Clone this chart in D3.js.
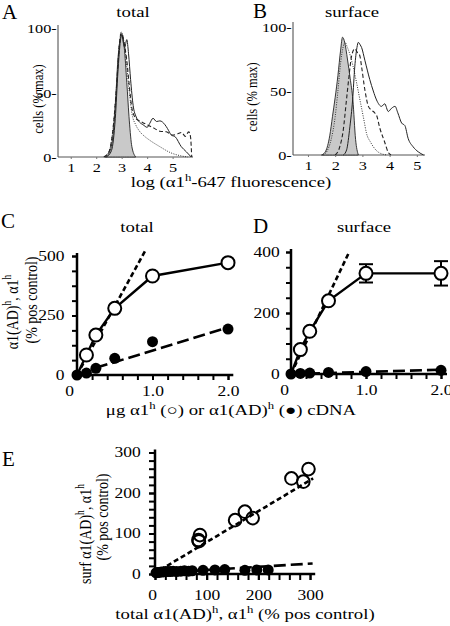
<!DOCTYPE html>
<html><head><meta charset="utf-8">
<script src="https://cdn.jsdelivr.net/npm/d3@7"></script>
<style>
body{margin:0;background:#fff}
svg{display:block}
text{font-family:"Liberation Serif","Times New Roman",serif;fill:#000}
</style>
</head><body>
<svg id="fig" width="450" height="626"></svg>
<script>
// ---------- Panel A: total (flow histograms; x = log fluorescence, y = % max) ----------
const aGrayX  = [2.35,2.5,2.65,2.75,2.85,2.95,3.02,3.1,3.2,3.3,3.4,3.55];
const aGrayY  = [0,3,15,40,75,92,95,85,58,28,8,0];
const aDotX   = [2.3,2.5,2.65,2.8,2.9,2.98,3.08,3.2,3.3,3.4,3.55,3.7,3.9,4.1,4.5,4.9,5.3,5.6];
const aDotY   = [0,4,20,55,85,97,90,70,50,34,25,20,16,13,8,3.5,1,0];
const aDashX  = [2.3,2.5,2.65,2.8,2.9,2.98,3.1,3.2,3.3,3.4,3.55,3.7,3.9,4.1,4.3,4.5,4.75,5.0,5.2,5.35,5.5,5.63,5.7,5.75];
const aDashY  = [0,4,20,55,85,96,88,75,55,38,30,28,26,24,22,20,19.6,17,18,19,16,19.5,16,0];
const aSolidX = [2.4,2.6,2.75,2.85,2.95,3.0,3.07,3.12,3.2,3.27,3.35,3.45,3.57,3.7,3.84,4.0,4.1,4.23,4.37,4.5,4.7,4.8,4.95,5.1,5.34,5.54,5.73];
const aSolidY = [0,5,30,65,90,95,88,85,91,80,60,40,31,27,25,23,26,30,27.5,28,25,22,17,15.7,8,4,0];
// ---------- Panel B: surface ----------
const bGrayX  = [1.5,1.65,1.8,1.9,2.0,2.1,2.2,2.27,2.35,2.45,2.55,2.65,2.75,2.85];
const bGrayY  = [0,3,15,30,45,62,82,92,88,75,60,43,12,0];
const bDotX   = [1.55,1.7,1.85,2.0,2.1,2.2,2.3,2.36,2.45,2.55,2.66,2.8,2.91,3.05,3.15,3.3,3.4,3.6,3.9];
const bDotY   = [0,3,12,30,50,72,85,88,84,78,69,55,43,28,17,10,6.5,2,0];
const bDashX  = [2.0,2.17,2.3,2.4,2.5,2.6,2.72,2.82,2.9,2.97,3.09,3.22,3.34,3.45,3.52,3.64,3.82,3.95,4.05];
const bDashY  = [0,6.5,20,40,60,77,83,80,78,69,51,38,35,33,31,21,10,2,0];
const bSolidX = [2.3,2.42,2.54,2.64,2.72,2.8,2.85,2.92,2.97,3.09,3.27,3.4,3.52,3.7,3.82,3.95,4.07,4.2,4.3,4.44,4.56,4.68,4.86,5.05,5.25];
const bSolidY = [0,4,22,43,69,84,88,86,84,74,59,50,43,38,40,34,36.5,38,33,25,23,13,6.5,2.5,0];
const histTicks = [1,2,3,4,5];
const histYTicks = [0,50,100];
// ---------- Panels C/D: dose response (µg cDNA) ----------
const dose       = [0, 0.125, 0.25, 0.5, 1.0, 2.0];
const totalWT    = [0, 84, 168, 280, 416, 472];   // α1h  (open)
const totalAD    = [0, 8, 28, 70, 140, 193];      // α1(AD)h (filled)
const surfWT     = [0, 80, 140, 240, 330, 330];
const surfWTerr  = [0, 0, 0, 0, 30, 40];
const surfAD     = [0, 2, 3, 5, 8, 12];
const fitTotalWTx = [0, 0.9],  fitTotalWTy = [0, 520];
const fitTotalADx = [0.25, 2.0], fitTotalADy = [30, 200];
const fitSurfWTx  = [0, 0.77], fitSurfWTy  = [0, 397];
const fitSurfADx  = [0, 2.0],  fitSurfADy  = [0, 14];
const doseTicks = [0, 1, 2];
const totalTicks = [0, 250, 500];
const surfTicks = [0, 200, 400];
// ---------- Panel E: surface vs total ----------
const eTotalWT = [84, 87, 85, 155, 174, 189, 264, 287, 297];
const eSurfWT  = [84, 96, 81, 133, 154, 138, 236, 228, 259];
const eTotalAD = [2,5,8,12,16,20,25,30,35,42,50,57,65,72,93,116,135,174,197,219];
const eSurfAD  = [3,4,4,5,5,6,6,6,7,6,7,8,7,8,9,10,11,9,10,10];
const eFitWTx = [10, 306], eFitWTy = [10, 236];
const eFitADx = [0, 305],  eFitADy = [2, 26];
const eTicks = [0, 100, 200, 300];

const SX = 1.25;
const svg = d3.select('#fig');

function rich(parent, x, y, parts, o = {}) {
  const size = o.size || 15, sx = o.sx || SX;
  let tr = `translate(${x},${y}) scale(${sx},1)`;
  if (o.rot) tr += ` rotate(${o.rot})`;
  const g = parent.append('g').attr('transform', tr);
  const t = g.append('text').attr('text-anchor', o.anchor || 'middle').attr('font-size', size);
  if (typeof parts === 'string') parts = [[parts]];
  let cur = 0;
  parts.forEach(([s, sup]) => {
    const target = sup ? -size * 0.38 : 0;
    t.append('tspan').attr('dy', target - cur).attr('font-size', sup ? size * 0.68 : size).text(s);
    cur = target;
  });
  return t;
}
function zip(xs, ys) { return xs.map((x, i) => [x, ys[i]]); }

// ---------- histogram panels ----------
function histPanel(x, y, gray, dot, dash, solid, yTop) {
  const g = svg.append('g');
  const line = d3.line().x(d => x(d[0])).y(d => y(d[1])).curve(d3.curveMonotoneX);
  const area = d3.area().x(d => x(d[0])).y0(y(0)).y1(d => y(d[1])).curve(d3.curveMonotoneX);
  const [x0, x1] = x.domain();
  g.append('line').attr('x1', x(x0)).attr('x2', x(x1)).attr('y1', y(0)).attr('y2', y(0))
    .attr('stroke', '#555').attr('stroke-width', 1);
  g.append('path').attr('d', area(gray)).attr('fill', '#c9c9c9').attr('stroke', '#222').attr('stroke-width', 0.9);
  g.append('path').attr('d', line(dot)).attr('fill', 'none').attr('stroke', '#333').attr('stroke-width', 1).attr('stroke-dasharray', '1,1.4');
  g.append('path').attr('d', line(dash)).attr('fill', 'none').attr('stroke', '#222').attr('stroke-width', 1.1).attr('stroke-dasharray', '4,2.5');
  g.append('path').attr('d', line(solid)).attr('fill', 'none').attr('stroke', '#222').attr('stroke-width', 1);
  const ya = g.append('g').attr('transform', `translate(${x(x0)},0)`)
    .call(d3.axisLeft(y).tickValues(histYTicks).tickSize(0).tickPadding(1).tickFormat(d => d + '-'));
  ya.select('.domain').remove();
  g.append('line').attr('x1', x(x0)).attr('x2', x(x0)).attr('y1', y(0)).attr('y2', yTop)
    .attr('stroke', '#444').attr('stroke-width', 1);
  ya.selectAll('text').attr('font-size', 13).attr('font-family', null).attr('transform', `scale(${SX},1)`).attr('dy', '0.35em');
  const xa = g.append('g').attr('transform', `translate(0,${y(0)})`)
    .call(d3.axisBottom(x).tickValues(histTicks).tickSize(2).tickPadding(4).tickFormat(d3.format('d')));
  xa.select('.domain').remove();
  xa.selectAll('line').attr('stroke', '#777');
  xa.selectAll('text').attr('font-size', 13).attr('font-family', null).attr('transform', `scale(${SX},1)`);
  return g;
}
const xA = d3.scaleLinear().domain([0.5, 5.8]).range([58, 193]);
const yA = d3.scaleLinear().domain([0, 100]).range([157, 28]);
histPanel(xA, yA, zip(aGrayX, aGrayY), zip(aDotX, aDotY), zip(aDashX, aDashY), zip(aSolidX, aSolidY), 25);
const xB = d3.scaleLinear().domain([0.45, 5.3]).range([293, 425]);
const yB = d3.scaleLinear().domain([0, 100]).range([155, 27]);
histPanel(xB, yB, zip(bGrayX, bGrayY), zip(bDotX, bDotY), zip(bDashX, bDashY), zip(bSolidX, bSolidY), 22);

rich(svg, 2, 19, 'A', {size: 21, sx: 1, anchor: 'start'});
rich(svg, 253, 18, 'B', {size: 21, sx: 1, anchor: 'start'});
rich(svg, 133, 17, 'total');
rich(svg, 352, 17, 'surface');
rich(svg, 43, 99, 'cells (% max)', {rot: -90, size: 12.5});
rich(svg, 257, 97, 'cells (% max)', {rot: -90, size: 12.5});
rich(svg, 231, 187, [['log (α1'], ['h', true], ['-647 fluorescence)']]);

// ---------- dose / scatter panels ----------
function axesCDE(g, x, y, xMaj, xMin, yMaj, yMin, xFmt, ts, zeroNudge, xPad, yPad) {
  const [xd0, xd1] = x.domain(), [yd0, yd1] = y.domain();
  const mk = (sel) => { sel.selectAll('line').attr('stroke', '#000').attr('stroke-width', 2); };
  const xMinor = g.append('g').attr('transform', `translate(0,${y(0)})`).call(d3.axisBottom(x).tickValues(xMin).tickSize(ts).tickFormat(''));
  xMinor.select('.domain').remove(); mk(xMinor);
  const xa = g.append('g').attr('transform', `translate(0,${y(0)})`).call(d3.axisBottom(x).tickValues(xMaj).tickSize(ts).tickPadding(xPad).tickFormat(xFmt));
  xa.select('.domain').remove(); mk(xa);
  xa.selectAll('text').attr('font-size', 14).attr('font-family', null)
    .attr('transform', d => `translate(${d === 0 ? zeroNudge : 0},0) scale(${SX},1)`);
  const yMinor = g.append('g').attr('transform', `translate(${x(0)},0)`).call(d3.axisLeft(y).tickValues(yMin).tickSize(ts).tickFormat(''));
  yMinor.select('.domain').remove(); mk(yMinor);
  const ya = g.append('g').attr('transform', `translate(${x(0)},0)`).call(d3.axisLeft(y).tickValues(yMaj).tickSize(ts).tickPadding(yPad));
  ya.select('.domain').remove(); mk(ya);
  ya.selectAll('text').attr('font-size', 14).attr('font-family', null).attr('transform', `scale(${SX},1)`);
  g.append('line').attr('x1', x(xd0) - 1).attr('x2', x(xd1)).attr('y1', y(0)).attr('y2', y(0)).attr('stroke', '#000').attr('stroke-width', 2.5);
  g.append('line').attr('x1', x(0)).attr('x2', x(0)).attr('y1', y(0) + 1).attr('y2', y(yd1) - 3).attr('stroke', '#000').attr('stroke-width', 2.5);
}
const fmtDose = d => d === 0 ? '0' : d3.format('.1f')(d);
const doseMinor = d3.range(0, 2.01, 0.2);

function fitLine(g, x, y, xs, ys, dash) {
  g.append('path').attr('d', d3.line().x(d => x(d[0])).y(d => y(d[1]))(zip(xs, ys)))
    .attr('fill', 'none').attr('stroke', '#000').attr('stroke-width', 2.6).attr('stroke-dasharray', dash);
}
const SHORT = '5,3', LONG = '12,5';

// C
const xC = d3.scaleLinear().domain([0, 2.07]).range([77, 233.3]);
const yC = d3.scaleLinear().domain([0, 500]).range([375, 256]);
const gC = svg.append('g');
axesCDE(gC, xC, yC, doseTicks, doseMinor, totalTicks, d3.range(0, 501, 62.5), fmtDose, 5, -8, 6, 5);
fitLine(gC, xC, yC, fitTotalWTx, fitTotalWTy, SHORT);
fitLine(gC, xC, yC, fitTotalADx, fitTotalADy, LONG);
gC.append('path').attr('d', d3.line().x(d => xC(d[0])).y(d => yC(d[1]))(zip(dose, totalWT)))
  .attr('fill', 'none').attr('stroke', '#000').attr('stroke-width', 2.4);
gC.selectAll('.ad').data(zip(dose, totalAD)).join('circle').attr('cx', d => xC(d[0])).attr('cy', d => yC(d[1])).attr('r', 5.5).attr('fill', '#000');
gC.selectAll('.wt').data(zip(dose, totalWT).slice(1)).join('circle').attr('cx', d => xC(d[0])).attr('cy', d => yC(d[1])).attr('r', 6.5)
  .attr('fill', '#fff').attr('stroke', '#000').attr('stroke-width', 2);

// D
const xD = d3.scaleLinear().domain([0, 2.08]).range([291, 447]);
const yD = d3.scaleLinear().domain([0, 400]).range([374, 252]);
const gD = svg.append('g');
axesCDE(gD, xD, yD, doseTicks, doseMinor, surfTicks, d3.range(0, 401, 50), fmtDose, 5, -7, 6, 4);
fitLine(gD, xD, yD, fitSurfWTx, fitSurfWTy, SHORT);
fitLine(gD, xD, yD, fitSurfADx, fitSurfADy, LONG);
gD.append('path').attr('d', d3.line().x(d => xD(d[0])).y(d => yD(d[1]))(zip(dose, surfWT)))
  .attr('fill', 'none').attr('stroke', '#000').attr('stroke-width', 2.4);
dose.forEach((dv, i) => {
  if (!surfWTerr[i]) return;
  const cx = xD(dv), lo = yD(surfWT[i] - surfWTerr[i]), hi = yD(surfWT[i] + surfWTerr[i]);
  gD.append('line').attr('x1', cx).attr('x2', cx).attr('y1', lo).attr('y2', hi).attr('stroke', '#000').attr('stroke-width', 2);
  [lo, hi].forEach(yy => gD.append('line').attr('x1', cx - 7).attr('x2', cx + 7).attr('y1', yy).attr('y2', yy).attr('stroke', '#000').attr('stroke-width', 2));
});
gD.selectAll('.ad').data(zip(dose, surfAD)).join('circle').attr('cx', d => xD(d[0])).attr('cy', d => yD(d[1])).attr('r', 5.5).attr('fill', '#000');
gD.selectAll('.wt').data(zip(dose, surfWT).slice(1)).join('circle').attr('cx', d => xD(d[0])).attr('cy', d => yD(d[1])).attr('r', 6.5)
  .attr('fill', '#fff').attr('stroke', '#000').attr('stroke-width', 2);

rich(svg, 1, 228, 'C', {size: 21, sx: 1, anchor: 'start'});
rich(svg, 253, 233, 'D', {size: 21, sx: 1, anchor: 'start'});
rich(svg, 137, 232, 'total');
rich(svg, 364, 232, 'surface');
rich(svg, 18, 312, [['α1(AD)'], ['h', true], [', α1'], ['h', true]], {rot: -90, size: 14});
rich(svg, 37, 300, '(% pos control)', {rot: -90, size: 14});
rich(svg, 231, 415, [['μg α1'], ['h', true], [' (○) or α1(AD)'], ['h', true], [' (●) cDNA']]);

// E
const xE = d3.scaleLinear().domain([0, 310]).range([155, 315.2]);
const yE = d3.scaleLinear().domain([0, 300]).range([574, 452.5]);
const gE = svg.append('g');
axesCDE(gE, xE, yE, eTicks, d3.range(0, 301, 20), eTicks, d3.range(0, 301, 20), d3.format('d'), 6, -3, 10, 5.5);
fitLine(gE, xE, yE, eFitWTx, eFitWTy, SHORT);
fitLine(gE, xE, yE, eFitADx, eFitADy, LONG);
gE.selectAll('.ad').data(zip(eTotalAD, eSurfAD)).join('circle').attr('cx', d => xE(d[0])).attr('cy', d => yE(d[1])).attr('r', 5.5).attr('fill', '#000');
gE.selectAll('.wt').data(zip(eTotalWT, eSurfWT)).join('circle').attr('cx', d => xE(d[0])).attr('cy', d => yE(d[1])).attr('r', 6.3)
  .attr('fill', 'none').attr('stroke', '#000').attr('stroke-width', 2);

rich(svg, 2, 466, 'E', {size: 21, sx: 1, anchor: 'start'});
rich(svg, 91, 534, [['surf α1(AD)'], ['h', true], [', α1'], ['h', true]], {rot: -90, size: 14});
rich(svg, 108, 517, '(% pos control)', {rot: -90, size: 14});
rich(svg, 245, 619, [['total α1(AD)'], ['h', true], [', α1'], ['h', true], [' (% pos control)']]);
</script>
</body></html>
